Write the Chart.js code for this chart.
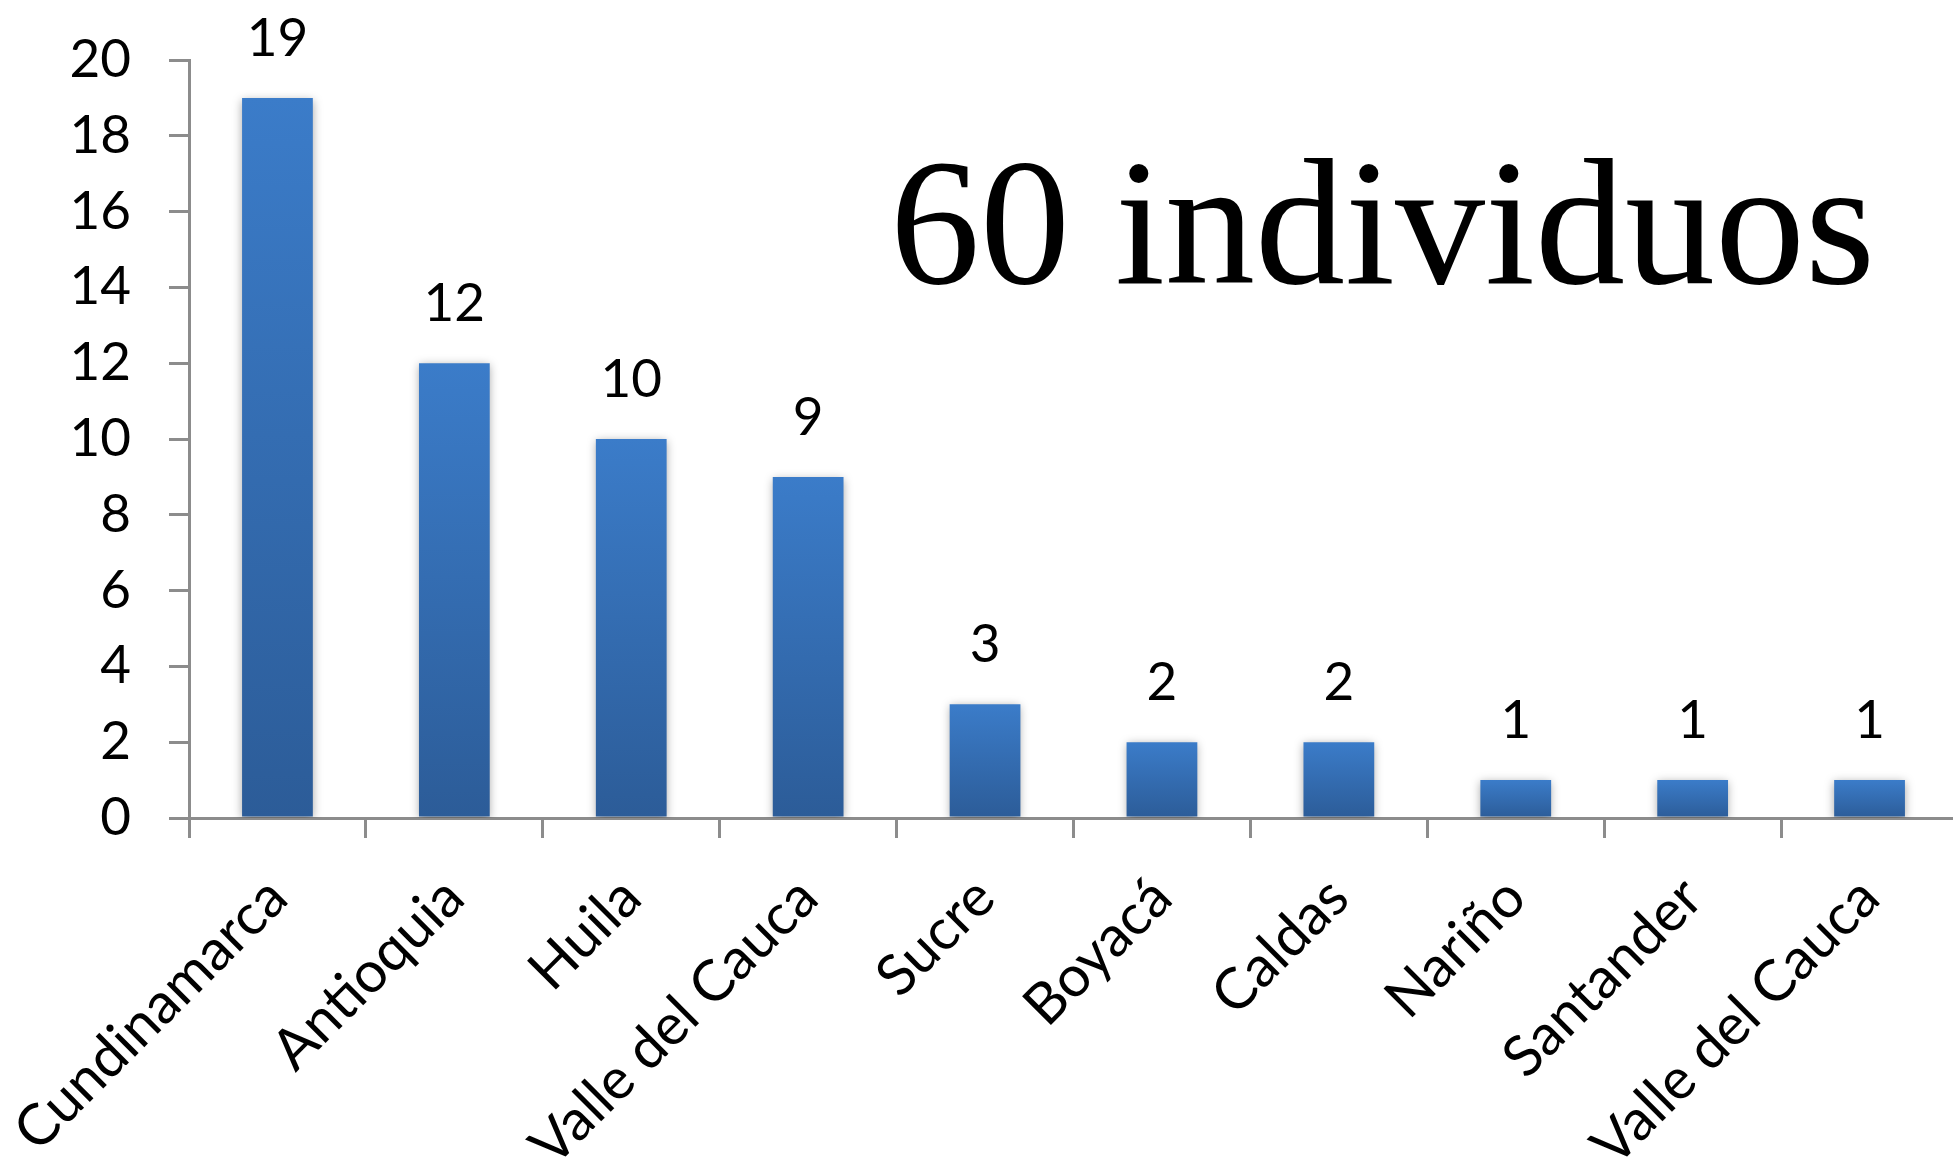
<!DOCTYPE html>
<html>
<head>
<meta charset="utf-8">
<script src="https://cdn.jsdelivr.net/npm/chart.js@4/dist/chart.umd.min.js"></script>
<style>
    html, body { margin: 0; padding: 0; background: #fff; overflow: hidden; }
    #wrap { width: 1958px; height: 1168px; }
</style>
</head>
<body>
<div id="wrap"><canvas id="barChart"></canvas></div>
<script>
const departamentos = ['Cundinamarca', 'Antioquia', 'Huila', 'Valle del Cauca', 'Sucre', 'Boyacá', 'Caldas', 'Nariño', 'Santander', 'Valle del Cauca'];
const individuos = [19, 12, 10, 9, 3, 2, 2, 1, 1, 1];
const yTicks = [0, 2, 4, 6, 8, 10, 12, 14, 16, 18, 20];
const titulo = '60 individuos';

const ctx1 = document.getElementById('barChart');

// degradado por barra, de arriba (claro) a abajo (oscuro)
const barGradient = (context) => {
    const chart = context.chart;
    const y = chart.scales.y;
    if (!y || context.dataIndex === undefined) return '#3470b8';
    const v = individuos[context.dataIndex];
    const top = y.getPixelForValue(v);
    const bottom = y.getPixelForValue(0);
    if (!isFinite(top) || !isFinite(bottom) || top === bottom) return '#3470b8';
    const g = chart.ctx.createLinearGradient(0, top, 0, bottom);
    g.addColorStop(0, 'rgb(59, 124, 201)');
    g.addColorStop(1, 'rgb(44, 92, 152)');
    return g;
};

const sombraPlugin = {
    id: 'sombra',
    beforeDatasetsDraw(chart) {
        const c = chart.ctx;
        c.save();
        c.shadowColor = 'rgba(0, 0, 0, 0.35)';
        c.shadowBlur = 9;
        c.shadowOffsetX = 0;
        c.shadowOffsetY = 2;
    },
    afterDatasetsDraw(chart) {
        chart.ctx.restore();
        const c = chart.ctx;
        const meta = chart.getDatasetMeta(0);
        c.save();
        c.fillStyle = '#000';
        c.font = '53px Lato';
        c.textAlign = 'center';
        c.textBaseline = 'alphabetic';
        meta.data.forEach((bar, i) => {
            c.fillText(String(individuos[i]), bar.x, bar.y - 42);
        });
        c.restore();
    }
};

const tituloPlugin = {
    id: 'titulo',
    afterDraw(chart) {
        const c = chart.ctx;
        c.save();
        c.fillStyle = '#000';
        c.font = '180px "Liberation Serif"';
        c.textAlign = 'left';
        c.textBaseline = 'alphabetic';
        c.fillText(titulo, 890, 283);
        c.restore();
    }
};

const chart = new Chart(ctx1, {
    type: 'bar',
    data: {
        labels: departamentos,
        datasets: [{
            label: 'Individuos',
            data: individuos,
            backgroundColor: barGradient,
            borderWidth: 0,
            barPercentage: 0.4,
            categoryPercentage: 1
        }]
    },
    options: {
        responsive: true,
        maintainAspectRatio: false,
        animation: false,
        layout: {
            padding: {
                left: 0,
                right: 0,
                top: 60,
                bottom: 0
            }
        },
        plugins: {
            legend: { display: false },
            title: { display: false },
            tooltip: { enabled: false }
        },
        scales: {
            x: {
                grid: {
                    display: true,
                    drawOnChartArea: false,
                    drawTicks: true,
                    tickLength: 20,
                    color: '#8c8c8c',
                    lineWidth: 3
                },
                border: {
                    display: true,
                    color: '#8c8c8c',
                    width: 3
                },
                ticks: {
                    color: '#000',
                    font: { family: 'Lato', size: 57 },
                    minRotation: 45,
                    maxRotation: 45,
                    autoSkip: false,
                    padding: 26
                },
                afterFit(scale) {
                    scale.height = 350;
                    scale.paddingLeft = 0;
                    scale.paddingRight = 0;
                }
            },
            y: {
                min: 0,
                max: 20,
                afterBuildTicks(scale) {
                    scale.ticks = yTicks.map(v => ({ value: v }));
                },
                grid: {
                    display: true,
                    drawOnChartArea: false,
                    drawTicks: true,
                    tickLength: 20,
                    color: '#8c8c8c',
                    lineWidth: 3
                },
                border: {
                    display: true,
                    color: '#8c8c8c',
                    width: 3
                },
                ticks: {
                    color: '#000',
                    font: { family: 'Lato', size: 53 },
                    padding: 38
                },
                afterFit(scale) {
                    scale.width = 189;
                    scale.paddingTop = 0;
                    scale.paddingBottom = 0;
                }
            }
        }
    },
    plugins: [sombraPlugin, tituloPlugin]
});
</script>
</body>
</html>
